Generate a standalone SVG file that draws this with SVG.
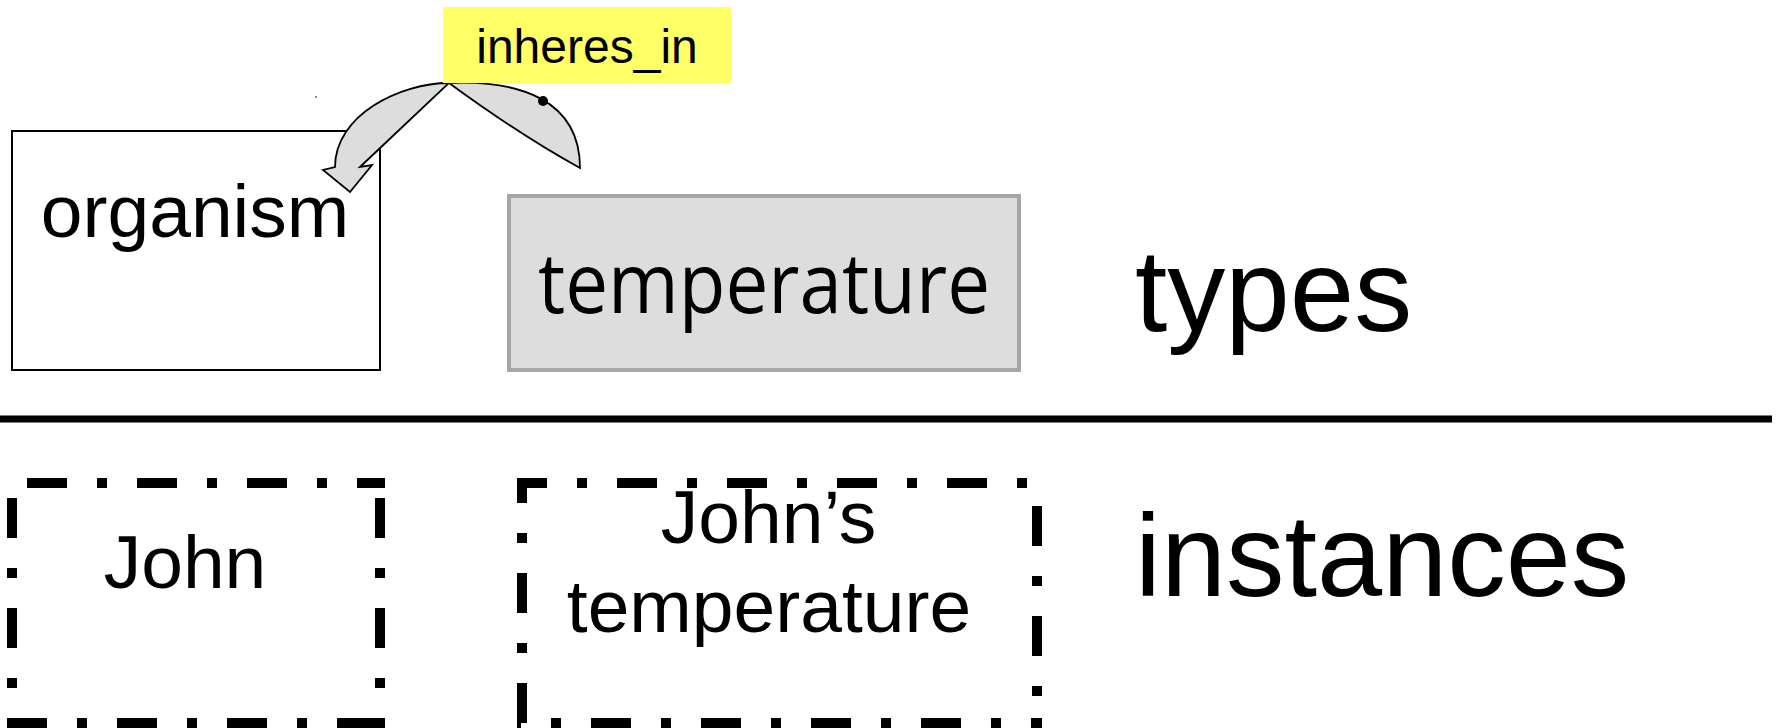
<svg xmlns="http://www.w3.org/2000/svg" width="1782" height="728" viewBox="0 0 1782 728">
  <style>
    .sans { font-family: "Liberation Sans", Arial, sans-serif; fill: #000; }
    .type-box { fill: #ffffff; stroke: #000; stroke-width: 2; }
    .quality-box { fill: #dddddd; stroke: #a6a6a6; stroke-width: 4; }
    .inst { fill: none; stroke: #000; stroke-width: 10; stroke-dasharray: 40 30 10 30; }
    .rel-arrow { fill: #dddddd; stroke: #000; stroke-width: 1.8; stroke-linejoin: miter; }
  </style>

  <rect width="1782" height="728" fill="#ffffff"/>

  <!-- divider between the type level and the instance level -->
  <line x1="0" y1="419" x2="1772" y2="419" stroke="#000" stroke-width="7"/>

  <!-- type level -->
  <g id="organism">
    <rect class="type-box" x="12" y="131" width="368" height="239"/>
    <text class="sans" x="195" y="237" font-size="75" text-anchor="middle">organism</text>
  </g>

  <g id="temperature">
    <rect class="quality-box" x="509" y="196" width="510" height="174"/>
    <text x="764" y="313" font-family="'Open Sans', 'DejaVu Sans', sans-serif" font-size="84" text-anchor="middle" textLength="452" lengthAdjust="spacingAndGlyphs">temperature</text>
  </g>

  <!-- curved relation arrow between temperature and organism -->
  <g id="connectors">
    <path class="rel-arrow" d="M449,83 C400,83 335,115 335,167 L323,170 L350,192 L372,165 L360,167 Z"/>
    <path class="rel-arrow" d="M449,83 C520,80 580,100 580,168 Q520,135 449,83 Z"/>
    <circle cx="543" cy="101" r="5" fill="#000"/>
    <circle cx="316" cy="97" r="1" fill="#666"/>
  </g>

  <g id="inheres_in">
    <rect x="443" y="7" width="288" height="76" fill="#ffff66"/>
    <text class="sans" x="587" y="63" font-size="48" text-anchor="middle">inheres_in</text>
  </g>

  <!-- instance level -->
  <g id="john">
    <line class="inst" x1="12" y1="483" x2="385" y2="483" stroke-dashoffset="95"/>
    <line class="inst" x1="12" y1="483" x2="12" y2="728" stroke-dashoffset="95"/>
    <line class="inst" x1="380" y1="483" x2="380" y2="728" stroke-dashoffset="95"/>
    <line class="inst" x1="7" y1="723" x2="385" y2="723"/>
    <text class="sans" x="185" y="588" font-size="75" text-anchor="middle">John</text>
  </g>

  <g id="johns_temperature">
    <line class="inst" x1="517" y1="483" x2="1042" y2="483" stroke-dashoffset="10"/>
    <line class="inst" x1="522" y1="478" x2="522" y2="728" stroke-dashoffset="15"/>
    <line class="inst" x1="1037" y1="478" x2="1037" y2="728" stroke-dashoffset="82"/>
    <line class="inst" x1="517" y1="723" x2="1042" y2="723" stroke-dashoffset="36"/>
    <text class="sans" font-size="75" text-anchor="middle">
      <tspan x="779" y="543">John’s</tspan>
      <tspan x="769" y="632">temperature</tspan>
    </text>
  </g>

  <!-- level labels -->
  <text id="types" class="sans" x="1135" y="331" font-size="116">types</text>
  <text id="instances" class="sans" x="1135" y="596" font-size="117">instances</text>
</svg>
